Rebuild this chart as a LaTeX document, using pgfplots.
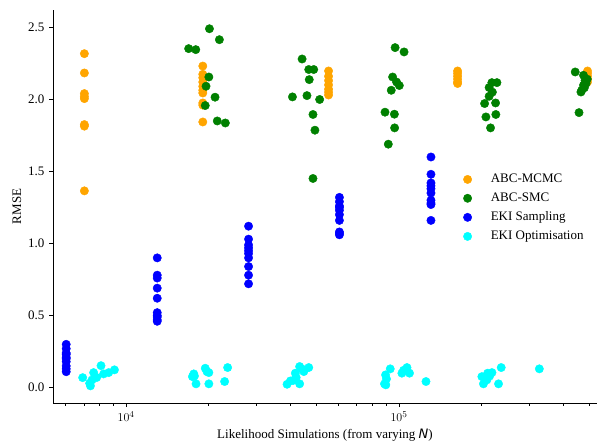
\documentclass[border=0pt]{standalone}
\usepackage{fontspec}
\setmainfont{Liberation Serif}
\newfontfamily\dejavu{DejaVu Sans}
\usepackage{pgfplots}
\pgfplotsset{compat=1.18}
\definecolor{corange}{RGB}{255,165,0}
\definecolor{cgreen}{RGB}{0,128,0}
\definecolor{cblue}{RGB}{0,0,255}
\definecolor{ccyan}{RGB}{0,255,255}
\begin{document}
\fontsize{13}{15}\selectfont
\begin{tikzpicture}
\begin{axis}[
  name=ax,
  scale only axis,
  width=544pt, height=393pt,
  xmode=log,
  xmin=5395, xmax=532000,
  ymin=-0.107, ymax=2.62,
  axis lines=left,
  axis line style={-, line width=0.8pt},
  tick align=outside,
  tick style={black, line width=0.7pt},
  major tick length=4pt,
  minor tick length=2.5pt,
  ytick={0,0.5,1,1.5,2,2.5},
  yticklabel style={/pgf/number format/fixed,/pgf/number format/fixed zerofill,/pgf/number format/precision=1,/pgf/number format/assume math mode=true},
  xtick={10000,100000},
  xticklabels={$10^{4}$,$10^{5}$},
  minor xtick={6000,7000,8000,9000,20000,30000,40000,50000,60000,70000,80000,90000,200000,300000,400000,500000},
  ticklabel style={font=\fontsize{13}{15}\selectfont},
  xlabel={Likelihood Simulations (from varying {\dejavu\itshape N})},
  ylabel={RMSE},
  label style={font=\fontsize{13}{15}\selectfont},
  xlabel style={yshift=2pt},
  ylabel style={yshift=-2pt},
  legend style={draw=none, fill=none, at={(0.754,0.593)}, anchor=north west, row sep=4.3pt, font=\fontsize{13}{15}\selectfont, inner xsep=0pt,
    /tikz/every odd column/.append style={column sep=17pt}},
  legend cell align=left,
  every axis plot/.append style={only marks, mark=*, mark size=4.2pt},
]
\addplot[corange, mark options={draw=corange, fill=corange}] coordinates {
(7030,2.317)(7030,2.183)(7030,2.040)(7030,2.020)(7030,2.005)(7030,1.825)(7030,1.814)(7030,1.365)
(19100,2.231)(19100,2.174)(19100,2.15)(19100,2.12)(19100,2.09)(19100,2.063)(19100,2.044)(19100,1.975)(19100,1.96)(19100,1.843)
(55200,2.197)(55200,2.16)(55200,2.13)(55200,2.10)(55200,2.07)(55200,2.05)(55200,2.03)
(164000,2.197)(164000,2.18)(164000,2.16)(164000,2.14)(164000,2.12)(164000,2.11)
(491000,2.197)(491000,2.18)(491000,2.16)(491000,2.14)(491000,2.12)
};
\addlegendentry{ABC-MCMC}
\addplot[cgreen, mark options={draw=cgreen, fill=cgreen}] coordinates {
(16950,2.352)(18000,2.345)(20200,2.490)(21970,2.414)(20100,2.155)(19630,2.091)(21180,2.015)(19500,1.957)(21580,1.850)(23100,1.836)
(40700,2.017)(44150,2.280)(46700,2.207)(48700,2.207)(46900,2.137)(46000,2.026)(51200,1.999)(48400,1.895)(49200,1.786)(48400,1.451)
(96800,2.359)(104400,2.329)(94800,2.155)(100300,2.096)(93700,2.063)(88900,1.911)(96200,1.897)(96400,1.802)(91400,1.689)(98000,2.12)
(219000,2.116)(228600,2.116)(214000,2.082)(214000,2.021)(206000,1.971)(226000,1.975)(208300,1.878)(226500,1.895)(216600,1.802)(220000,2.05)
(442600,2.190)(474600,2.167)(481000,2.132)(474600,2.098)(467700,2.063)(464500,2.051)(457000,1.908)(485000,2.11)(490000,2.14)(478000,2.08)
};
\addlegendentry{ABC-SMC}
\addplot[cblue, mark options={draw=cblue, fill=cblue}] coordinates {
(6030,0.30)(6030,0.27)(6030,0.24)(6030,0.21)(6030,0.18)(6030,0.15)(6030,0.11)(6030,0.13)(6030,0.20)(6030,0.23)
(13000,0.90)(13000,0.78)(13000,0.76)(13000,0.69)(13000,0.62)(13000,0.52)(13000,0.50)(13000,0.49)(13000,0.47)(13000,0.46)
(28100,1.12)(28100,1.03)(28100,0.97)(28100,0.95)(28100,0.93)(28100,0.90)(28100,0.84)(28100,0.78)(28100,0.72)(28100,0.99)
(60500,1.32)(60500,1.29)(60500,1.26)(60500,1.23)(60500,1.20)(60500,1.16)(60500,1.08)(60500,1.06)(60500,1.07)(60500,1.25)
(131000,1.60)(131000,1.48)(131000,1.40)(131000,1.38)(131000,1.35)(131000,1.30)(131000,1.28)(131000,1.27)(131000,1.16)(131000,1.42)
};
\addlegendentry{EKI Sampling}
\addplot[ccyan, mark options={draw=ccyan, fill=ccyan}] coordinates {
(6930,0.069)(7400,0.012)(7600,0.104)(7500,0.053)(8090,0.152)(8270,0.095)(8630,0.104)(9060,0.123)(7800,0.07)(7350,0.03)
(17700,0.095)(18040,0.026)(17500,0.076)(19500,0.134)(20100,0.104)(20100,0.026)(22960,0.042)(23550,0.139)(17800,0.08)(19800,0.11)
(38900,0.023)(40000,0.046)(41700,0.100)(43250,0.026)(43250,0.146)(44800,0.111)(46700,0.139)(42000,0.07)(44000,0.13)(41000,0.05)
(88500,0.026)(89500,0.019)(89300,0.088)(92900,0.130)(102500,0.100)(107000,0.139)(109300,0.100)(125600,0.042)(90000,0.06)(104000,0.12)
(201300,0.076)(204000,0.026)(211400,0.100)(219200,0.104)(210000,0.053)(231700,0.026)(237000,0.139)(215000,0.08)
(327000,0.130)
};
\addlegendentry{EKI Optimisation}
\end{axis}
\pgfresetboundingbox
\path ([xshift=-53pt,yshift=-42pt]ax.south west) rectangle ([yshift=10pt]ax.north east);
\end{tikzpicture}
\end{document}
